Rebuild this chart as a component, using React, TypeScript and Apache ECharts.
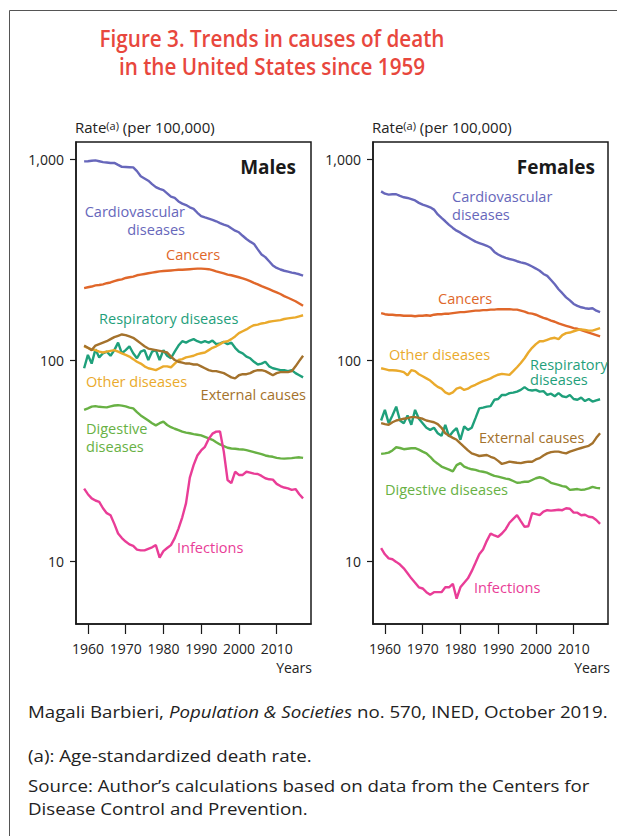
import React, { useEffect, useRef } from "react";
import * as echarts from "echarts";

const years = Array.from({ length: 59 }, (_, i) => 1959 + i);
const xTicks = [1960, 1970, 1980, 1990, 2000, 2010];
const yTicks = [10, 100, 1000];

// Males
const mCardio = [973, 975, 980, 984, 975, 965, 960, 955, 957, 935, 914, 912, 910, 908, 870, 820, 800, 780, 750, 725, 710, 700, 675, 650, 640, 615, 600, 590, 575, 565, 540, 520, 512, 505, 498, 490, 480, 472, 465, 452, 440, 432, 415, 400, 388, 378, 355, 335, 325, 310, 295, 287, 282, 278, 275, 272, 270, 267, 263];
const mCancer = [228, 230, 232, 235, 236, 238, 241, 243, 247, 250, 252, 256, 258, 260, 264, 266, 268, 270, 272, 274, 276, 277, 278, 279, 280, 281, 281, 282, 283, 284, 285, 285, 284, 283, 280, 276, 273, 270, 266, 264, 261, 258, 255, 251, 247, 242, 238, 233, 229, 225, 221, 217, 213, 208, 204, 200, 196, 191, 186];
const mResp = [91, 106, 96, 113, 103, 108, 110, 105, 112, 122, 108, 112, 117, 108, 102, 110, 112, 100, 110, 112, 100, 112, 105, 102, 110, 118, 124, 122, 125, 127, 124, 122, 124, 122, 125, 120, 121, 123, 120, 122, 115, 110, 108, 104, 102, 98, 95, 96, 98, 93, 91, 90, 89, 89, 88, 89, 86, 84, 82];
const mOther = [117, 115, 113, 112, 110, 109, 110, 111, 112, 110, 108, 106, 104, 101, 98, 96, 93, 91, 90, 89, 91, 93, 93, 92, 96, 100, 101, 103, 104, 105, 107, 108, 109, 112, 115, 117, 120, 123, 124, 127, 131, 136, 139, 142, 146, 149, 150, 152, 153, 155, 156, 157, 158, 160, 161, 162, 163, 165, 167];
const mExternal = [118, 115, 112, 118, 120, 122, 124, 127, 130, 132, 134, 133, 131, 129, 125, 121, 117, 114, 113, 112, 111, 110, 109, 104, 100, 98, 97, 96, 96, 95, 95, 93, 91, 89, 88, 88, 87, 86, 84, 82, 81, 84, 85, 85, 86, 88, 89, 89, 88, 86, 84, 86, 87, 87, 87, 88, 93, 99, 105];
const mDigestive = [56.5, 57.5, 58.6, 59, 58.5, 58.3, 58.1, 58.8, 59.4, 59.6, 59.3, 58.8, 58, 57.5, 55, 53, 51.5, 50, 48.5, 47.3, 48.5, 49.4, 47.5, 46.3, 45.5, 44.8, 44, 43.5, 43.2, 42.8, 42.5, 42.2, 41.5, 40.8, 40.1, 39, 38, 37.3, 36.6, 36.3, 36.2, 36, 35.9, 35.6, 35.2, 34.8, 34.4, 34, 33.5, 33.2, 33, 32.6, 32.4, 32.3, 32.4, 32.5, 32.7, 32.8, 32.6];
const mInfect = [22.9, 21.5, 20.5, 20, 19.7, 18.3, 17.3, 16.9, 15.3, 13.7, 13, 12.5, 12.1, 11.9, 11.4, 11.3, 11.3, 11.5, 11.7, 12.0, 10.4, 11.2, 11.6, 12.0, 13.0, 14.5, 16.5, 19.4, 26, 30, 33.5, 35.5, 37, 40.5, 43, 44, 44.1, 35, 25.3, 24.4, 27.8, 26.8, 26.8, 27.8, 27.5, 27.2, 27.1, 26.5, 25.8, 25.5, 25.4, 24.2, 23.6, 23.2, 23.0, 22.6, 22.8, 21.5, 20.5];

// Females
const fCardio = [690, 672, 665, 668, 668, 655, 645, 640, 632, 622, 605, 593, 585, 575, 560, 530, 509, 490, 470, 454, 440, 430, 418, 408, 398, 388, 382, 376, 370, 362, 345, 335, 328, 322, 318, 315, 310, 306, 303, 298, 292, 285, 278, 268, 262, 250, 238, 225, 215, 205, 198, 190, 186, 183, 181, 180, 181, 176, 173];
const fCancer = [171, 169, 168, 168, 167, 167, 166, 166, 166, 165, 166, 166, 167, 166, 168, 169, 169, 170, 170, 171, 172, 173, 173, 174, 175, 176, 176, 177, 177, 178, 178, 179, 179, 179, 179, 178, 178, 176, 174, 171, 170, 168, 165, 162, 160, 157, 155, 152, 150, 148, 146, 144, 143, 141, 139, 137, 135, 133, 131];
const fOther = [91, 90, 89, 89, 88.7, 88, 87, 84, 89, 88, 85, 83, 81, 79, 76, 73.5, 72, 69, 67.6, 69, 72, 73, 71, 72, 74, 75.3, 77, 78.5, 79.7, 81, 83, 84.5, 85.3, 84.8, 84.3, 88, 92, 96.6, 102, 109, 115, 120, 124, 124, 126, 128, 129, 127, 133, 136, 137, 139, 141, 142, 141, 140, 140, 142, 144];
const fResp = [50, 56.5, 48.5, 53, 58.6, 50, 48.5, 53, 47.6, 56.5, 51, 48.5, 46, 44.9, 46, 43.2, 42, 47.6, 41.6, 44, 45.8, 40.1, 46.8, 44.9, 46, 51.4, 57.5, 58, 58.6, 59, 63.4, 64, 67.1, 67, 68.4, 68.8, 69.6, 71, 73.3, 71, 70.5, 71, 69.6, 70, 67.1, 68, 66, 68.4, 66, 65.3, 67, 64, 63.4, 65, 62.5, 64, 62.1, 63, 63.8];
const fExternal = [48.5, 48, 47.6, 49, 50, 50.5, 51, 51.4, 52, 52, 51.5, 51, 50, 49.5, 49, 48, 46, 43.2, 42, 41, 40.1, 38.5, 37, 35.5, 34.3, 33.8, 33.3, 33.5, 33.7, 33, 32.5, 31.5, 30.4, 30.8, 31.2, 31, 30.8, 30.7, 31, 31.2, 31.2, 32, 32.5, 33.5, 34.3, 34.8, 35, 35, 34.6, 34.3, 35, 35.5, 36, 36.5, 37, 37.4, 38.5, 41, 43.2];
const fDigestive = [34.1, 34.3, 34.6, 35.5, 36.8, 36.5, 36, 36.2, 36.4, 36.4, 35.8, 35, 34.3, 33, 31.5, 30.5, 29.5, 29, 28.5, 27.9, 30, 30.7, 29.5, 29, 28.6, 28.4, 28, 27.8, 27.5, 27, 26.5, 26.3, 26, 25.7, 25.5, 25, 24.5, 24.6, 24.8, 24.8, 25.3, 25.8, 26.1, 25.8, 25.2, 24.5, 24.2, 23.9, 23.6, 23.4, 22.6, 22.7, 22.8, 22.6, 22.7, 23, 23.4, 23.1, 23];
const fInfect = [11.6, 10.8, 10.3, 10.2, 9.9, 9.6, 9.2, 8.7, 8.2, 7.8, 7.4, 7.3, 7.0, 6.8, 7.0, 7.0, 7.0, 7.4, 7.4, 7.7, 6.5, 7.4, 7.8, 8.2, 8.9, 9.8, 10.8, 11.4, 12.6, 13.7, 13.4, 13.2, 13.7, 14.4, 15.5, 16.2, 16.9, 15.8, 14.8, 14.9, 17.3, 17.1, 16.9, 17.6, 17.9, 17.8, 17.9, 18, 17.9, 18.3, 18.2, 17.4, 17.4, 16.9, 17, 16.6, 16.5, 16, 15.3];

const C = {
  cardio: "#6767bb",
  cancer: "#e0672a",
  resp: "#1fa07b",
  other: "#eaaa2c",
  external: "#a4722c",
  digestive: "#68b144",
  infect: "#e93d97",
};

const FONT = "'Open Sans', sans-serif";

function pairs(vals: number[]) {
  return years.map((y, i) => [y, vals[i]]);
}

function label(text: string, x: number, y: number, fill: string, align = "left", size = 14, extra: any = {}) {
  return {
    type: "text",
    x,
    y,
    scaleX: extra.scaleX || 1,
    style: {
      text,
      fill,
      font: `${extra.style || "normal"} ${extra.weight || "normal"} ${size}px ${FONT}`,
      textAlign: align,
      textVerticalAlign: "middle",
      lineHeight: extra.lineHeight || Math.round(size * 1.3),
    },
  };
}

const FOOT = { scaleX: 1.1 };
const SER = { scaleX: 1.04 };
const SER2 = { scaleX: 1.04, lineHeight: 17.5 };

export default function App() {
  const ref = useRef<HTMLDivElement>(null);
  useEffect(() => {
    const chart = echarts.init(ref.current!, null, { renderer: "svg" });
    const gridBase = { top: 142, width: 235, height: 482, show: true, borderColor: "#1a1a1a", borderWidth: 1.5, containLabel: false };
    const xAxisBase = (gi: number) => ({
      type: "value",
      gridIndex: gi,
      min: 1956.85,
      max: 2019.1,
      splitLine: { show: false },
      axisLine: { show: true, lineStyle: { color: "#1a1a1a", width: 1.5 } },
      axisTick: { show: true, length: 10, lineStyle: { color: "#1a1a1a", width: 1.2 }, customValues: xTicks },
      axisLabel: { color: "#222", fontSize: 14, fontFamily: FONT, margin: 17, customValues: xTicks, formatter: (v: number) => String(v) },
    });
    const yAxisBase = (gi: number) => ({
      type: "log",
      logBase: 10,
      gridIndex: gi,
      min: 4.86,
      max: 1215,
      splitLine: { show: false },
      axisLine: { show: true, lineStyle: { color: "#1a1a1a", width: 1.5 } },
      axisTick: { show: true, length: 6, lineStyle: { color: "#1a1a1a", width: 1.2 }, customValues: yTicks },
      axisLabel: {
        color: "#222",
        fontSize: 14,
        fontFamily: FONT,
        margin: 12,
        customValues: yTicks,
        formatter: (v: number) => (v >= 1000 ? "1,000" : String(Math.round(v))),
      },
    });
    const line = (name: string, vals: number[], color: string, gi: number) => ({
      type: "line",
      name,
      xAxisIndex: gi,
      yAxisIndex: gi,
      data: pairs(vals),
      showSymbol: false,
      symbol: "none",
      lineStyle: { color, width: 2.4 },
      itemStyle: { color },
      silent: true,
    });
    const rateLabel = (x: number) => ({
      type: "text",
      x,
      y: 127,
      style: {
        text: "{n|Rate}{s|(a)}{n| (per 100,000)}",
        textVerticalAlign: "middle",
        rich: {
          n: { fontSize: 15, fontFamily: FONT, fill: "#222", color: "#222" },
          s: { fontSize: 11, fontFamily: FONT, fill: "#222", color: "#222", padding: [0, 0, 4, 0] },
        },
      },
    });
    const option: any = {
      animation: false,
      backgroundColor: "#fff",
      grid: [
        { ...gridBase, left: 76 },
        { ...gridBase, left: 373 },
      ],
      xAxis: [xAxisBase(0), xAxisBase(1)],
      yAxis: [yAxisBase(0), yAxisBase(1)],
      series: [
        line("Cardiovascular diseases", mCardio, C.cardio, 0),
        line("Cancers", mCancer, C.cancer, 0),
        line("Digestive diseases", mDigestive, C.digestive, 0),
        line("Infections", mInfect, C.infect, 0),
        line("Respiratory diseases", mResp, C.resp, 0),
        line("Other diseases", mOther, C.other, 0),
        line("External causes", mExternal, C.external, 0),
        line("Cardiovascular diseases", fCardio, C.cardio, 1),
        line("Cancers", fCancer, C.cancer, 1),
        line("Digestive diseases", fDigestive, C.digestive, 1),
        line("Infections", fInfect, C.infect, 1),
        line("Respiratory diseases", fResp, C.resp, 1),
        line("Other diseases", fOther, C.other, 1),
        line("External causes", fExternal, C.external, 1),
      ],
      graphic: [
        { type: "line", shape: { x1: 9.5, y1: 10.5, x2: 620, y2: 10.5 }, style: { stroke: "#555", lineWidth: 1 } },
        { type: "line", shape: { x1: 9.5, y1: 10.5, x2: 9.5, y2: 840 }, style: { stroke: "#555", lineWidth: 1 } },
        label("Figure 3. Trends in causes of death", 272, 37, "#e8473d", "center", 23.5, { weight: 600, scaleX: 0.88 }),
        label("in the United States since 1959", 272, 65, "#e8473d", "center", 23.5, { weight: 600, scaleX: 0.88 }),
        rateLabel(75),
        rateLabel(372),
        label("Males", 296, 167, "#1a1a1a", "right", 19, { weight: "bold" }),
        label("Females", 595, 167, "#1a1a1a", "right", 19, { weight: "bold" }),
        label("Years", 312, 667, "#222", "right", 14),
        label("Years", 610, 667, "#222", "right", 14),
        // Males labels
        label("Cardiovascular\ndiseases", 185, 220.5, C.cardio, "right", 14, SER2),
        label("Cancers", 166, 255, C.cancer, "left", 14, SER),
        label("Respiratory diseases", 99, 319, C.resp, "left", 14, SER),
        label("Other diseases", 86, 382, C.other, "left", 14, SER),
        label("External causes", 306, 395, C.external, "right", 14, SER),
        label("Digestive\ndiseases", 86, 437.5, C.digestive, "left", 14, SER2),
        label("Infections", 177, 548, C.infect, "left", 14, SER),
        // Females labels
        label("Cardiovascular\ndiseases", 452, 205.5, C.cardio, "left", 14, SER2),
        label("Cancers", 438, 299, C.cancer, "left", 14, SER),
        label("Other diseases", 389, 355, C.other, "left", 14, SER),
        label("Respiratory\ndiseases", 530, 372, C.resp, "left", 14, { scaleX: 1.04, lineHeight: 15.5 }),
        label("External causes", 479, 438, C.external, "left", 14, SER),
        label("Digestive diseases", 385, 490, C.digestive, "left", 14, SER),
        label("Infections", 474, 588, C.infect, "left", 14, SER),
        // Footer
        {
          type: "text",
          x: 28,
          y: 711,
          scaleX: 1.1,
          style: {
            text: "{n|Magali Barbieri, }{i|Population & Societies}{n| no. 570, INED, October 2019.}",
            textVerticalAlign: "middle",
            rich: {
              n: { fontSize: 17, fontFamily: FONT, fill: "#222", color: "#222" },
              i: { fontSize: 17, fontFamily: FONT, fontStyle: "italic", fill: "#222", color: "#222" },
            },
          },
        },
        label("(a): Age-standardized death rate.", 28, 755, "#222", "left", 17, FOOT),
        label("Source: Author\u2019s calculations based on data from the Centers for\nDisease Control and Prevention.", 28, 797, "#222", "left", 17, { ...FOOT, lineHeight: 23 }),
      ],
    };
    chart.setOption(option);
    return () => chart.dispose();
  }, []);
  return <div ref={ref} style={{ position: "absolute", left: 0, top: 0, width: 617, height: 836, background: "#fff" }} />;
}
